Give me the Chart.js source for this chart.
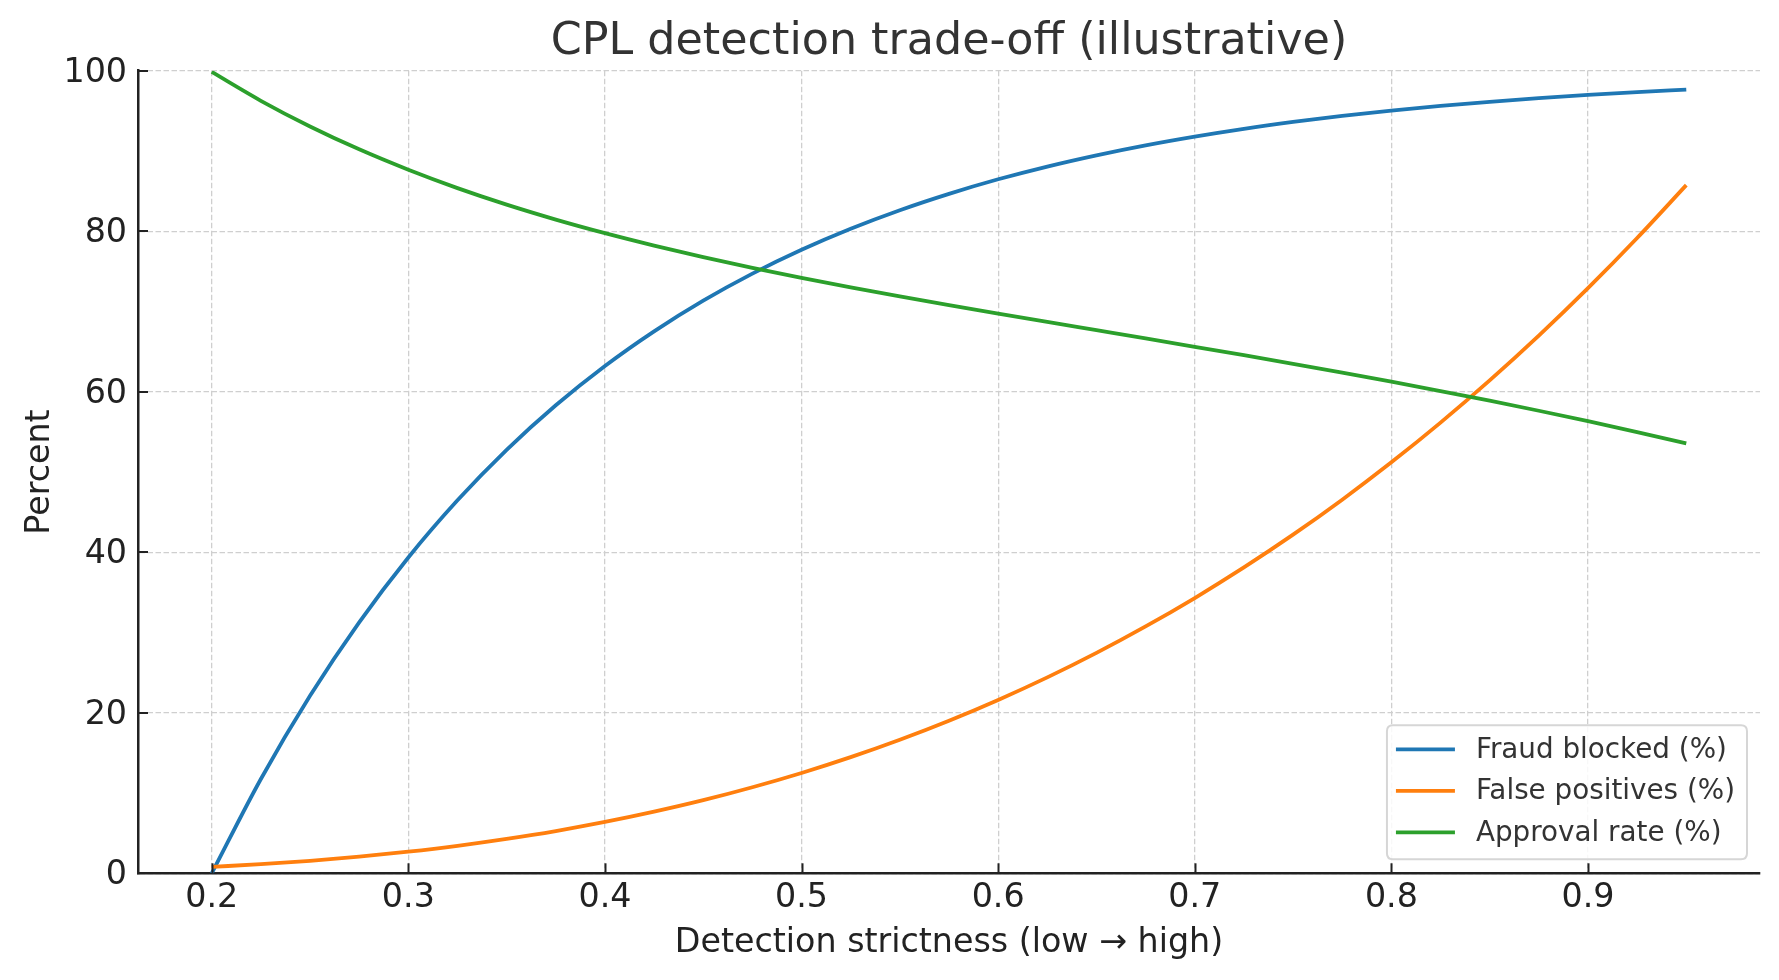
<!DOCTYPE html>
<html>
<head>
<meta charset="utf-8">
<script src="https://cdn.jsdelivr.net/npm/chart.js@4.4.1/dist/chart.umd.min.js"></script>
<style>
  html, body { margin: 0; padding: 0; background: #ffffff; }
  #wrap { width: 1779px; height: 980px; }
</style>
</head>
<body>
<div id="wrap"><canvas id="c" width="1779" height="980"></canvas></div>
<script>
// ---- data ----
const strictness = [0.200, 0.225, 0.250, 0.275, 0.300, 0.325, 0.350, 0.375, 0.400, 0.425, 0.450,
                    0.475, 0.500, 0.525, 0.550, 0.575, 0.600, 0.625, 0.650, 0.675, 0.700, 0.725,
                    0.750, 0.775, 0.800, 0.825, 0.850, 0.875, 0.900, 0.925, 0.950];
const fraudBlocked = [0.0, 11.75, 22.12, 31.27, 39.35, 46.47, 52.76, 58.31, 63.21, 67.53, 71.35,
                      74.72, 77.69, 80.31, 82.62, 84.66, 86.47, 88.06, 89.46, 90.70, 91.79, 92.76,
                      93.61, 94.36, 95.02, 95.61, 96.12, 96.58, 96.98, 97.34, 97.65];
const falsePositives = [0.80, 1.14, 1.56, 2.08, 2.70, 3.43, 4.29, 5.27, 6.40, 7.68, 9.11,
                        10.72, 12.50, 14.47, 16.64, 19.01, 21.60, 24.41, 27.46, 30.76, 34.30, 38.11,
                        42.19, 46.55, 51.20, 56.15, 61.41, 66.99, 72.90, 79.15, 85.74];
const approvalRate = [99.84, 96.25, 93.05, 90.20, 87.66, 85.37, 83.31, 81.45, 79.76, 78.21, 76.77,
                      75.44, 74.19, 73.01, 71.89, 70.80, 69.74, 68.70, 67.67, 66.64, 65.60, 64.55,
                      63.48, 62.38, 61.25, 60.09, 58.88, 57.63, 56.33, 54.97, 53.56];
const seriesLabels = ['Fraud blocked (%)', 'False positives (%)', 'Approval rate (%)'];
const xTickValues = [0.2, 0.3, 0.4, 0.5, 0.6, 0.7, 0.8, 0.9];
const yTickValues = [0, 20, 40, 60, 80, 100];
const titleText = 'CPL detection trade-off (illustrative)';
const xTitle = 'Detection strictness (low \u2192 high)';
const yTitle = 'Percent';

const FONT = "'DejaVu Sans', 'Liberation Sans', sans-serif";
const colors = ['#1f77b4', '#ff7f0e', '#2ca02c'];
const toPts = arr => arr.map((v, i) => ({ x: strictness[i], y: v }));

// title centred over the plot area (matplotlib style)
const axesTitle = {
  id: 'axesTitle',
  afterDraw(chart) {
    const ctx = chart.ctx, ca = chart.chartArea;
    ctx.save();
    ctx.font = '44.4px ' + FONT;
    ctx.fillStyle = '#333333';
    ctx.textAlign = 'center';
    ctx.textBaseline = 'alphabetic';
    ctx.fillText(titleText, (ca.left + ca.right) / 2, 54);
    ctx.restore();
  }
};

// inward tick marks (matplotlib style)
const inwardTicks = {
  id: 'inwardTicks',
  afterDraw(chart) {
    const ctx = chart.ctx, ca = chart.chartArea;
    const xs = chart.scales.x, ys = chart.scales.y;
    ctx.save();
    ctx.strokeStyle = '#222222';
    ctx.lineWidth = 2;
    xs.ticks.forEach(t => {
      const px = Math.round(xs.getPixelForValue(t.value)) + 0.5;
      ctx.beginPath(); ctx.moveTo(px, ca.bottom); ctx.lineTo(px, ca.bottom - 10); ctx.stroke();
    });
    ys.ticks.forEach(t => {
      const py = Math.round(ys.getPixelForValue(t.value));
      ctx.beginPath(); ctx.moveTo(ca.left, py); ctx.lineTo(ca.left + 10, py); ctx.stroke();
    });
    ctx.restore();
  }
};

// framed legend inside lower-right of plot
const boxLegend = {
  id: 'boxLegend',
  afterDraw(chart) {
    const ctx = chart.ctx, ca = chart.chartArea;
    ctx.save();
    ctx.font = '27.8px ' + FONT;
    const items = chart.data.datasets.map(d => ({ label: d.label, color: d.borderColor }));
    const maxW = Math.max(...items.map(it => ctx.measureText(it.label).width));
    const padL = 9, handle = 59, gap = 21, padR = 12;
    const w = padL + handle + gap + maxW + padR;
    const h = 134;
    const right = ca.right - 13, bottom = ca.bottom - 14;
    const left = right - w, top = bottom - h;
    const r = 6;
    ctx.beginPath();
    ctx.moveTo(left + r, top);
    ctx.lineTo(right - r, top); ctx.quadraticCurveTo(right, top, right, top + r);
    ctx.lineTo(right, bottom - r); ctx.quadraticCurveTo(right, bottom, right - r, bottom);
    ctx.lineTo(left + r, bottom); ctx.quadraticCurveTo(left, bottom, left, bottom - r);
    ctx.lineTo(left, top + r); ctx.quadraticCurveTo(left, top, left + r, top);
    ctx.closePath();
    ctx.fillStyle = 'rgba(255,255,255,0.85)';
    ctx.fill();
    ctx.strokeStyle = '#d6d6d6';
    ctx.lineWidth = 2;
    ctx.stroke();
    items.forEach((it, i) => {
      const cy = top + 24 + i * 41.5;
      ctx.strokeStyle = it.color;
      ctx.lineWidth = 3.8;
      ctx.beginPath(); ctx.moveTo(left + padL, cy); ctx.lineTo(left + padL + handle, cy); ctx.stroke();
      ctx.fillStyle = '#333333';
      ctx.textAlign = 'left';
      ctx.textBaseline = 'middle';
      ctx.fillText(it.label, left + padL + handle + gap, cy + 1);
    });
    ctx.restore();
  }
};

const ds = (label, values, color, order) => ({
  label, data: toPts(values), borderColor: color, backgroundColor: color,
  borderWidth: 3.8, pointRadius: 0, pointHoverRadius: 0, fill: false,
  cubicInterpolationMode: 'monotone', order
});

new Chart(document.getElementById('c'), {
  type: 'line',
  data: {
    datasets: [
      ds(seriesLabels[0], fraudBlocked, colors[0], 3),
      ds(seriesLabels[1], falsePositives, colors[1], 2),
      ds(seriesLabels[2], approvalRate, colors[2], 1)
    ]
  },
  options: {
    responsive: false,
    animation: false,
    events: [],
    layout: { padding: { left: 0, right: 19, top: 70.7, bottom: 0 } },
    plugins: {
      legend: { display: false },
      tooltip: { enabled: false },
      title: { display: false }
    },
    scales: {
      x: {
        type: 'linear', min: 0.1625, max: 0.9875,
        afterBuildTicks: s => { s.ticks = xTickValues.map(v => ({ value: v })); },
        afterFit: s => { s.height = 106.7; },
        ticks: {
          color: '#222222', padding: 5,
          font: { family: FONT, size: 33.3 },
          callback: v => v.toFixed(1), maxRotation: 0, autoSkip: false
        },
        grid: {
          color: '#cfcfcf', lineWidth: 1.3, drawTicks: false
        },
        border: { display: true, color: '#222222', width: 2.5, dash: [5.5, 2.5] },
        title: {
          display: true, text: xTitle, color: '#222222',
          font: { family: FONT, size: 33.3, lineHeight: 1.2 },
          padding: { top: 0, bottom: 17 }
        }
      },
      y: {
        type: 'linear', min: 0, max: 100,
        afterBuildTicks: s => { s.ticks = yTickValues.map(v => ({ value: v })); },
        afterFit: s => { s.width = 138; },
        ticks: {
          color: '#222222', padding: 11, labelOffset: 2.5,
          font: { family: FONT, size: 33.3 }
        },
        grid: {
          color: '#cfcfcf', lineWidth: 1.3, drawTicks: false
        },
        border: { display: true, color: '#222222', width: 2.5, dash: [5.5, 2.5] },
        title: {
          display: true, text: yTitle, color: '#222222',
          font: { family: FONT, size: 33.3, lineHeight: 1.2 },
          padding: { top: 20, bottom: 0 }
        }
      }
    }
  },
  plugins: [axesTitle, inwardTicks, boxLegend]
});
</script>
</body>
</html>
